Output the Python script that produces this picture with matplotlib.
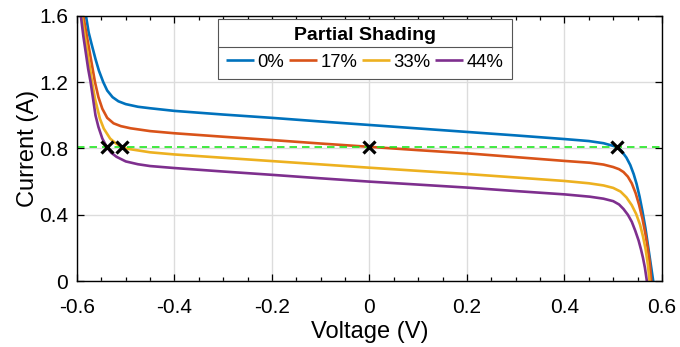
import matplotlib
matplotlib.use("Agg")
import matplotlib.pyplot as plt
from matplotlib.lines import Line2D

# Data (voltage in V, current in A)
v_0 = [-0.585, -0.5815, -0.576, -0.570, -0.562, -0.555, -0.546, -0.538, -0.527, -0.515,
       -0.500, -0.475, -0.45, -0.4, -0.3, -0.2, -0.1, 0.0, 0.1, 0.2, 0.3, 0.4, 0.45, 0.48,
       0.507, 0.517, 0.527, 0.535, 0.542, 0.548, 0.554, 0.560, 0.566, 0.571, 0.576, 0.582, 0.585]
i_0 = [1.65, 1.60, 1.50, 1.43, 1.34, 1.27, 1.20, 1.15, 1.11, 1.085,
       1.068, 1.052, 1.043, 1.027, 1.005, 0.985, 0.963, 0.942, 0.921, 0.900, 0.879, 0.857, 0.845, 0.832,
       0.810, 0.785, 0.745, 0.700, 0.645, 0.585, 0.510, 0.420, 0.320, 0.220, 0.120, 0.0, -0.06]

v_17 = [-0.589, -0.587, -0.581, -0.575, -0.569, -0.563, -0.556, -0.548, -0.538, -0.525,
        -0.51, -0.49, -0.45, -0.4, -0.3, -0.2, -0.1, 0.0, 0.1, 0.2, 0.3, 0.4, 0.452, 0.48,
        0.50, 0.512, 0.521, 0.530, 0.538, 0.546, 0.553, 0.560, 0.566, 0.571, 0.575, 0.578, 0.580]
i_17 = [1.65, 1.60, 1.50, 1.40, 1.30, 1.20, 1.11, 1.04, 0.985, 0.952,
        0.935, 0.922, 0.905, 0.892, 0.871, 0.851, 0.830, 0.810, 0.790, 0.771, 0.748, 0.725, 0.714, 0.703,
        0.688, 0.675, 0.658, 0.630, 0.590, 0.530, 0.460, 0.375, 0.285, 0.195, 0.110, 0.0, -0.05]

v_33 = [-0.592, -0.590, -0.584, -0.578, -0.573, -0.569, -0.563, -0.553, -0.545, -0.532,
        -0.52, -0.508, -0.5, -0.45, -0.4, -0.3, -0.2, -0.1, 0.0, 0.1, 0.2, 0.3, 0.4, 0.45,
        0.48, 0.50, 0.515, 0.527, 0.538, 0.547, 0.555, 0.561, 0.5665, 0.571, 0.5745, 0.577]
i_33 = [1.65, 1.60, 1.48, 1.37, 1.28, 1.20, 1.10, 0.98, 0.92, 0.86,
        0.83, 0.81, 0.80, 0.777, 0.764, 0.744, 0.724, 0.704, 0.684, 0.665, 0.646, 0.625, 0.604, 0.590,
        0.577, 0.562, 0.540, 0.505, 0.458, 0.405, 0.340, 0.270, 0.190, 0.100, 0.0, -0.05]

v_44 = [-0.594, -0.592, -0.587, -0.582, -0.577, -0.572, -0.567, -0.562, -0.556, -0.548,
        -0.539, -0.53, -0.519, -0.5, -0.475, -0.45, -0.4, -0.3, -0.2, -0.1, 0.0, 0.1, 0.2, 0.3,
        0.4, 0.452, 0.48, 0.50, 0.512, 0.521, 0.530, 0.538, 0.545, 0.552, 0.557, 0.561, 0.565,
        0.569, 0.571]
i_44 = [1.65, 1.60, 1.48, 1.38, 1.28, 1.20, 1.10, 1.00, 0.93, 0.86,
        0.81, 0.775, 0.750, 0.722, 0.705, 0.694, 0.682, 0.661, 0.641, 0.620, 0.600, 0.582, 0.564, 0.543,
        0.523, 0.509, 0.497, 0.482, 0.462, 0.435, 0.400, 0.358, 0.305, 0.245, 0.190, 0.140, 0.080,
        0.0, -0.05]

series_labels = ["0%", "17%", "33%", "44%"]
series_colors = ["#0072BD", "#D95319", "#EDB120", "#7E2F8E"]

# Operating points (black crosses) and the reference current
op_v = [-0.539, -0.508, 0.0, 0.507]
op_i = [0.81, 0.81, 0.81, 0.81]
ref_current = 0.81

# Ticks
x_ticks = [-0.6, -0.4, -0.2, 0.0, 0.2, 0.4, 0.6]
x_tick_labels = ["-0.6", "-0.4", "-0.2", "0", "0.2", "0.4", "0.6"]
x_minor = [-0.55, -0.5, -0.45, -0.35, -0.3, -0.25, -0.15, -0.1, -0.05,
           0.05, 0.1, 0.15, 0.25, 0.3, 0.35, 0.45, 0.5, 0.55]
y_ticks = [0, 0.4, 0.8, 1.2, 1.6]
y_tick_labels = ["0", "0.4", "0.8", "1.2", "1.6"]


def main():
    plt.rcParams["font.family"] = ["Liberation Sans", "DejaVu Sans"]
    plt.rcParams["axes.unicode_minus"] = False

    fig = plt.figure(figsize=(6.8, 3.47), dpi=100)
    ax = fig.add_axes([0.1132, 0.1902, 0.8603, 0.7637])

    # Grid behind everything
    ax.grid(True, color="#dcdcdc", linewidth=1.0)
    ax.set_axisbelow(True)

    # Curves
    curves = [(v_0, i_0), (v_17, i_17), (v_33, i_33), (v_44, i_44)]
    for (v, i), lab, col in zip(curves, series_labels, series_colors):
        ax.plot(v, i, color=col, linewidth=1.9, label=lab, solid_capstyle="butt")

    # Reference line and operating points
    ax.axhline(ref_current, color="#22e622", linewidth=1.2, linestyle=(0, (4.5, 3)))
    ax.plot(op_v, op_i, "x", color="black", markersize=8, markeredgewidth=2.3, zorder=5)

    # Axes setup
    ax.set_xlim(-0.6, 0.6)
    ax.set_ylim(0, 1.6)
    ax.set_xticks(x_ticks)
    ax.set_xticklabels(x_tick_labels)
    ax.set_xticks(x_minor, minor=True)
    ax.set_yticks(y_ticks)
    ax.set_yticklabels(y_tick_labels)
    ax.tick_params(which="both", direction="in", top=True, right=True, labelsize=15, width=0.9)
    ax.tick_params(which="major", length=5)
    ax.tick_params(which="minor", length=3.2)
    ax.tick_params(axis="x", which="major", pad=12)
    ax.tick_params(axis="y", which="major", pad=6.5)
    for s in ax.spines.values():
        s.set_linewidth(1.0)
        s.set_color("black")

    ax.set_xlabel("Voltage (V)", fontsize=17, labelpad=3)
    ax.set_ylabel("Current (A)", fontsize=17, labelpad=0)

    # Legend with bold title, horizontal entries
    leg = ax.legend(loc="upper left", bbox_to_anchor=(0.241, 0.988), ncol=4,
                    title="Partial Shading", fontsize=13.3,
                    title_fontproperties={"weight": "bold", "size": 14},
                    frameon=True, fancybox=False, framealpha=1, edgecolor="#555555",
                    handlelength=1.5, handletextpad=0.2, columnspacing=0.25,
                    borderpad=0.45, borderaxespad=0)
    leg.get_frame().set_linewidth(0.8)

    # Separator line under the legend title
    fig.canvas.draw()
    renderer = fig.canvas.get_renderer()
    lb = leg.get_window_extent(renderer)
    tb = leg.get_title().get_window_extent(renderer)
    W, H = fig.bbox.width, fig.bbox.height
    y_sep = (tb.y0 - 3) / H
    fig.add_artist(Line2D([lb.x0 / W, lb.x1 / W], [y_sep, y_sep],
                          color="#555555", linewidth=0.8))

    fig.savefig("out.png", dpi=100)


if __name__ == "__main__":
    main()
